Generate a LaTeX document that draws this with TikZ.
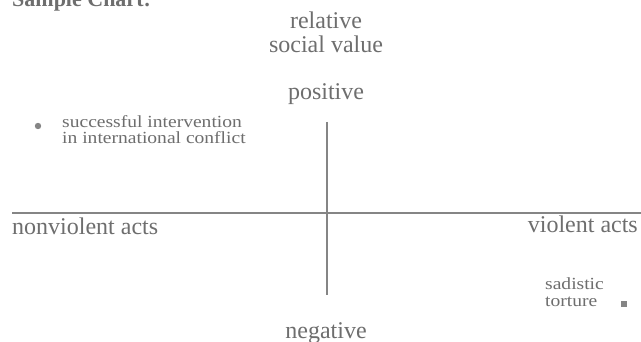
\documentclass[tikz,border=0pt]{standalone}
\usepackage{fontspec}
\setmainfont{Liberation Serif}
\newfontfamily\widefont[FakeStretch=1.15]{Liberation Serif}
\definecolor{txtgray}{HTML}{6E6E6E}
\definecolor{linegray}{HTML}{858585}
\begin{document}
\begin{tikzpicture}[x=1pt,y=-1pt,
  lbl/.style={text=txtgray, inner sep=0pt, font=\fontsize{24}{26}\selectfont},
  small/.style={text=txtgray, inner sep=0pt, font=\widefont\fontsize{17}{19}\selectfont},
  axis/.style={draw=linegray, line width=2pt}]
\useasboundingbox (0,0) rectangle (641,342);
\clip (0,0) rectangle (641,342);
\fill[white] (0,0) rectangle (641,342);
\node[anchor=base west, inner sep=0pt, text=txtgray, font=\fontsize{22}{24}\selectfont\bfseries] (title) at (12,7) {Sample Chart:};
\node[lbl, anchor=base] (rel) at (326,29) {relative};
\node[lbl, anchor=base] (soc) at (326,53) {social value};
\node[lbl, anchor=base] (pos) at (326,100) {positive};
\node[lbl, anchor=base] (neg) at (326,338) {negative};
\node[lbl, anchor=base west] (nonv) at (12,235) {nonviolent acts};
\node[lbl, anchor=base east] (viol) at (638,233) {violent acts};
\coordinate (top) at (327,122);
\coordinate (bot) at (327,295);
\coordinate (left) at (12,213);
\coordinate (right) at (641,213);
\draw[axis] (top) -- (bot);
\draw[axis] (left) -- (right);
\fill[linegray] (38,126) circle (3.2pt);
\node[small, anchor=base west] (si1) at (62,128) {successful intervention};
\node[small, anchor=base west] (si2) at (62,144) {in international conflict};
\node[small, anchor=base west] (st1) at (545,290) {sadistic};
\node[small, anchor=base west] (st2) at (545,307) {torture};
\fill[linegray] (621,301) rectangle (627,307);
\end{tikzpicture}
\end{document}
